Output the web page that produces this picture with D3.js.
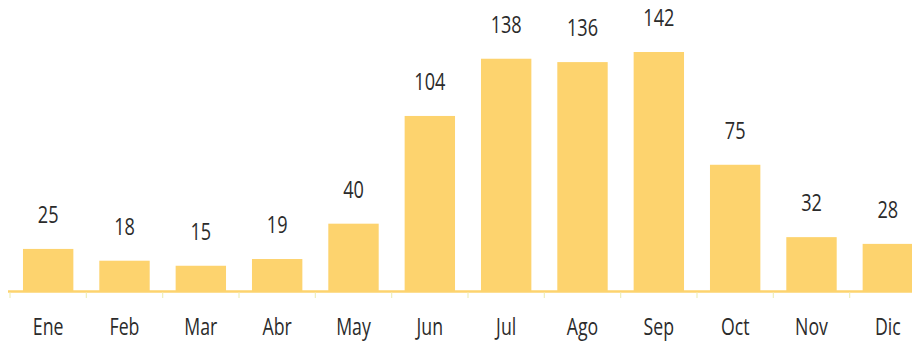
<!DOCTYPE html>
<html>
<head>
<meta charset="utf-8">
<script src="https://cdn.jsdelivr.net/npm/d3@7/dist/d3.min.js"></script>
<style>
  html, body { margin: 0; padding: 0; background: #fff; }
  svg { display: block; }
  text { font-family: "Open Sans", "Noto Sans", sans-serif; fill: #2b2b2b; }
</style>
</head>
<body>
<svg id="chart" width="912" height="341"></svg>
<script>
// Monthly values
const months = ["Ene", "Feb", "Mar", "Abr", "May", "Jun", "Jul", "Ago", "Sep", "Oct", "Nov", "Dic"];
const values = [25, 18, 15, 19, 40, 104, 138, 136, 142, 75, 32, 28];

const svg = d3.select("#chart");
const barColor = "#fdd36e";
const squeeze = 0.77; // narrow letterforms

const x = d3.scaleBand()
  .domain(months)
  .range([10, 926])
  .paddingInner(0.34)
  .paddingOuter(0.17);

const y = d3.scaleLinear()
  .domain([0, 142])
  .range([291, 52]);

// Bars
svg.append("g")
  .selectAll("rect")
  .data(months)
  .join("rect")
  .attr("x", d => x(d))
  .attr("width", x.bandwidth())
  .attr("y", (d, i) => y(values[i]))
  .attr("height", (d, i) => y(0) - y(values[i]))
  .attr("fill", barColor);

// Value labels
svg.append("g")
  .selectAll("text")
  .data(months)
  .join("text")
  .attr("transform", (d, i) =>
    `translate(${x(d) + x.bandwidth() / 2},${y(values[i]) - 26}) scale(${squeeze},1)`)
  .attr("text-anchor", "middle")
  .attr("font-size", 23.5)
  .text((d, i) => values[i]);

// Baseline
svg.append("line")
  .attr("x1", 8).attr("x2", 912)
  .attr("y1", y(0) + 0.5).attr("y2", y(0) + 0.5)
  .attr("stroke", barColor)
  .attr("stroke-width", 2.5);

// Tick marks between categories
const half = x.step() * x.paddingInner() / 2;
const tickPos = months.map(d => x(d) - half)
  .concat([x(months[months.length - 1]) + x.bandwidth() + half]);
svg.append("g")
  .selectAll("line")
  .data(tickPos)
  .join("line")
  .attr("x1", d => d).attr("x2", d => d)
  .attr("y1", y(0) + 1.5).attr("y2", y(0) + 7)
  .attr("stroke", "#eeeebb")
  .attr("stroke-width", 1.2);

// Month labels
const axis = d3.axisBottom(x).tickSize(0).tickPadding(0);
const gAxis = svg.append("g")
  .attr("transform", `translate(0, ${y(0)})`)
  .call(axis);
gAxis.select(".domain").remove();
gAxis.selectAll("text")
  .attr("font-size", 23)
  .attr("dy", null)
  .attr("y", null)
  .attr("transform", `translate(0,43.5) scale(${squeeze},1)`)
  .style("font-family", "'Open Sans', 'Noto Sans', sans-serif")
  .style("fill", "#2b2b2b");
</script>
</body>
</html>
